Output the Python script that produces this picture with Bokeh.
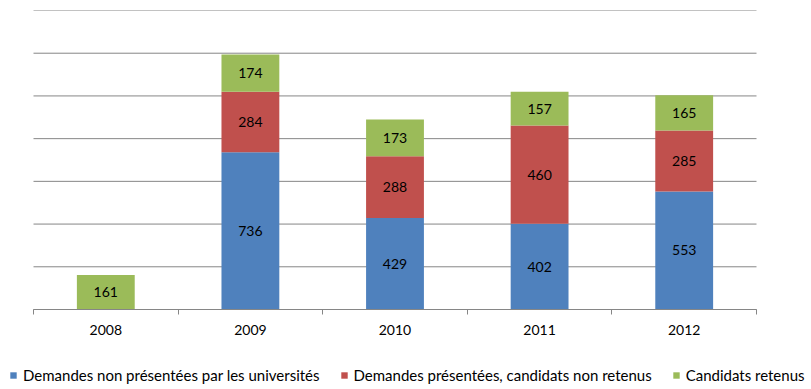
import numpy as np
from bokeh.plotting import figure
from bokeh.models import ColumnDataSource, FixedTicker, Legend, LegendItem, Range1d
from bokeh.core.properties import value
from bokeh.embed import file_html
from bokeh.resources import INLINE

years = ["2008", "2009", "2010", "2011", "2012"]
non_presentees = [0, 736, 429, 402, 553]
non_retenus = [0, 284, 288, 460, 285]
retenus = [161, 174, 173, 157, 165]
series_names = [
    "Demandes non présentées par les universités",
    "Demandes présentées, candidats non retenus",
    "Candidats retenus",
]
colors = ["#4F81BD", "#C0504D", "#9BBB59"]
grid_ticks = list(range(0, 1401, 200))

FONT = "Lato"
GRAY = "#868686"

# pixel layout of the plotting area (figure coordinates)
W, H = 805, 388
TOP = 10
AX_L, AX_R, AX_Y = 33, 756, 309
n = len(years)
ymax = grid_ticks[-1]
sx = (AX_R - AX_L) / n
sy = (AX_Y - TOP) / ymax
x_range = Range1d(-AX_L / sx, n + (W - AX_R) / sx)
y_range = Range1d(-(H - AX_Y) / sy, ymax)

xpos = np.arange(n) + 0.5
keys = ["s0", "s1", "s2"]
src = ColumnDataSource(dict(x=xpos, s0=non_presentees, s1=non_retenus, s2=retenus))

p = figure(width=W, height=H, output_backend="svg", toolbar_location=None,
           x_range=x_range, y_range=y_range, y_axis_location=None,
           min_border_left=0, min_border_right=0, min_border_top=TOP, min_border_bottom=0)
p.outline_line_color = None
p.background_fill_color = "white"
p.border_fill_color = "white"
p.grid.visible = False

# horizontal grid lines across the category span
p.segment(x0=0, x1=n, y0=grid_ticks, y1=grid_ticks, line_color=GRAY, line_width=1)

rs = p.vbar_stack(keys, x="x", width=0.4, source=src, color=colors, line_color=None)

# data labels
lx, ly, lt = [], [], []
bottoms = np.zeros(n)
for vals in (non_presentees, non_retenus, retenus):
    v = np.array(vals, dtype=float)
    for i in range(n):
        if v[i] > 0:
            lx.append(xpos[i]); ly.append(bottoms[i] + v[i] / 2); lt.append(str(int(v[i])))
    bottoms += v
p.text(x=lx, y=ly, text=lt, text_align="center", text_baseline="middle",
       text_font=value(FONT), text_font_size="14px", text_color="black")

# category axis at value 0
ax = p.xaxis[0]
ax.fixed_location = 0
ax.bounds = (0, n)
ax.ticker = FixedTicker(ticks=list(xpos), minor_ticks=list(range(n + 1)))
ax.major_label_overrides = {float(x): y for x, y in zip(xpos, years)}
ax.major_tick_in = 0
ax.major_tick_out = 0
ax.minor_tick_in = 0
ax.minor_tick_out = 5
ax.minor_tick_line_color = GRAY
ax.axis_line_color = GRAY
ax.major_label_text_font = FONT
ax.major_label_text_font_size = "14px"
ax.major_label_text_color = "black"
ax.major_label_standoff = 10

legend = Legend(items=[LegendItem(label=nm, renderers=[r]) for nm, r in zip(series_names, rs)],
                orientation="horizontal", location=(9, 4),
                glyph_width=8, glyph_height=8, label_standoff=6, spacing=20,
                padding=0, margin=0, border_line_color=None, background_fill_alpha=0,
                label_text_font=FONT, label_text_font_size="15px", label_height=12,
                label_text_color="black")
p.add_layout(legend, "center")

open("out.html", "w").write(file_html(p, INLINE))
